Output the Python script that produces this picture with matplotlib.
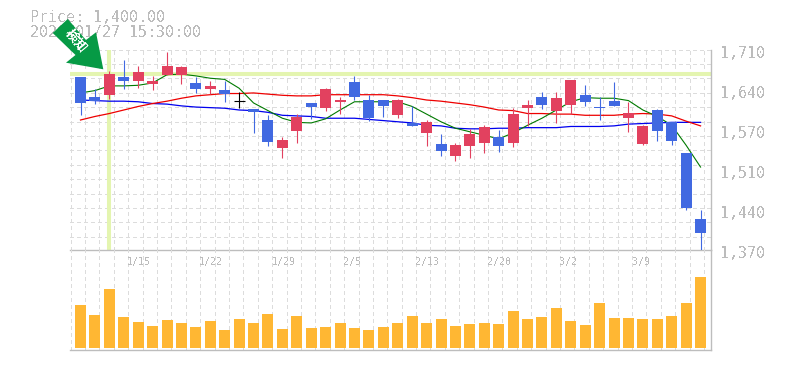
import matplotlib
matplotlib.use('Agg')
import matplotlib.pyplot as plt
from matplotlib.patches import Polygon

plt.rcParams['font.family'] = ['DejaVu Sans Mono']
plt.rcParams['text.antialiased'] = False

# price bars, oldest first
opens = [1664,1630,1633,1664,1657,1652,1667,1667,1654,1644,1642,1624,1609,1591,1543,1572,
         1620,1611,1622,1656,1625,1625,1600,1586,1569,1550,1530,1547,1552,1562,1552,1611,
         1630,1606,1616,1633,1613,1623,1594,1550,1608,1588,1535,1423]
highs = [1664,1643,1674,1693,1683,1666,1707,1683,1664,1657,1657,1639,1609,1600,1562,1601,
         1620,1645,1630,1666,1633,1625,1627,1615,1591,1567,1552,1576,1582,1574,1611,1625,
         1639,1639,1659,1650,1630,1656,1622,1582,1610,1588,1535,1438]
lows = [1600,1618,1627,1644,1645,1642,1667,1652,1637,1635,1622,1611,1569,1547,1526,1552,
        1593,1606,1601,1625,1589,1596,1594,1581,1547,1530,1521,1526,1535,1537,1545,1581,
        1610,1586,1601,1615,1591,1615,1571,1548,1555,1548,1438,1368]
closes = [1620,1624,1669,1657,1673,1657,1683,1681,1644,1649,1635,1624,1605,1554,1557,1596,
          1613,1644,1625,1630,1594,1615,1625,1581,1588,1538,1548,1567,1579,1547,1601,1616,
          1616,1628,1659,1622,1611,1615,1603,1581,1572,1555,1441,1399]

ma_short = [1637,1641,1649,1649,1650,1654,1668,1669,1666,1662,1660,1645,1620,1607,1594,1587,
            1586,1593,1608,1622,1622,1622,1622,1614,1601,1588,1577,1571,1565,1559,1569,1582,
            1594,1608,1622,1629,1628,1628,1624,1608,1597,1582,1548,1511]
ma_mid = [1591,1597,1602,1608,1614,1619,1623,1628,1632,1634,1636,1636,1637,1635,1633,1632,
          1632,1634,1634,1634,1634,1634,1632,1629,1625,1623,1620,1617,1613,1608,1607,1602,
          1602,1601,1601,1599,1599,1599,1601,1602,1601,1598,1589,1581]
ma_long = [1625,1624,1623,1623,1622,1619,1618,1615,1613,1612,1611,1608,1607,1604,1599,1598,
           1597,1594,1594,1594,1592,1590,1588,1586,1582,1581,1577,1576,1576,1577,1577,1578,
           1578,1578,1580,1580,1580,1581,1584,1585,1586,1587,1587,1587]

volume = [43,33,59,31,26,22,28,25,21,27,18,29,25,34,19,32,20,21,25,20,18,21,
          25,32,25,29,22,24,25,24,37,29,31,40,27,23,45,30,30,29,29,32,45,71]

date_idx = [4,9,14,19,24,29,34,39]
date_labels = ['1/15','1/22','1/29','2/5','2/13','2/20','3/2','3/9']
price_labels = ['1,710','1,640','1,570','1,510','1,440','1,370']
price_ticks = [1710,1642,1574,1506,1438,1370]
marker_idx = 2
marker_price = 1669

W, H = 785, 370
UP = '#e2415f'
DOWN = '#4169e1'
GRID = '#dcdcdc'
FRAME = '#bdbdbd'
TXT = '#bcbcbc'

fig = plt.figure(figsize=(W/100, H/100), dpi=100)
ax = fig.add_axes([70/W, 1-250/H, 640.5/W, 200/H])
ax2 = fig.add_axes([70/W, 1-350.3/H, 640.5/W, 100.3/H])

step = 14.42
xlim = (-10.5/step, (710.5-80.5)/step)
for a in (ax, ax2):
    a.set_xlim(xlim)
    a.set_xticks([])
    a.set_yticks([])
    for s in a.spines.values():
        s.set_visible(False)
    a.spines['right'].set_visible(True)
    a.spines['bottom'].set_visible(True)
    a.spines['right'].set_color(FRAME)
    a.spines['bottom'].set_color(FRAME)
    a.spines['right'].set_linewidth(1.0)
    a.spines['bottom'].set_linewidth(1.0)
    a.patch.set_alpha(0)

ax.set_ylim(1370, 1710)
ax2.set_ylim(-2.3, 98)

# square dashed grid, 14.4 px pitch
dash = (0, (3.2, 3.2))
gx = 0.5
while gx < 640:
    xv = xlim[0] + gx/step
    ax.axvline(xv, color=GRID, lw=0.72, ls=dash, zorder=1, antialiased=False)
    ax2.axvline(xv, color=GRID, lw=0.72, ls=dash, zorder=1, antialiased=False)
    gx += 14.4
gy = 49.5
while gy < 245:
    ax.axhline(1795-1.7*gy, color=GRID, lw=0.72, ls=dash, zorder=1, antialiased=False)
    gy += 14.4

# marker cross for the detected day
ax.axhline(marker_price, color='#e4f5b0', lw=2.9, zorder=1.5)
ax.axvline(marker_idx, color='#e4f5b0', lw=2.9, zorder=1.5)

xs = list(range(len(closes)))
ax.plot(xs, ma_long, color='#0000ee', lw=0.9, zorder=2)
ax.plot(xs, ma_mid, color='#ee0000', lw=0.9, zorder=2)
ax.plot(xs, ma_short, color='#007a00', lw=0.8, zorder=2)

# candles sit above the averages
for i in range(len(opens)):
    o, h, l, c = opens[i], highs[i], lows[i], closes[i]
    if c > o:
        col = UP
    elif c < o:
        col = DOWN
    else:
        col = 'black'
    ax.vlines(i, l, h, color=col, lw=0.8, zorder=3)
    if c == o:
        ax.hlines(c, i-0.38, i+0.38, color=col, lw=0.8, zorder=3)
    else:
        ax.bar(i, abs(c-o), bottom=min(o, c), width=11/step, color=col, lw=0, zorder=3)

ax2.bar(xs, volume, width=11/step, color='#ffb733', lw=0, zorder=3)

# text, offsets in px
for i, lab in zip(date_idx, date_labels):
    ax2.annotate(lab, (i, 1), xycoords=('data', 'axes fraction'), xytext=(-11*0.72, -12*0.72),
                 textcoords='offset points', ha='left', va='center', fontsize=7.2, color=TXT)
for v, lab in zip(price_ticks, price_labels):
    ax.annotate(lab, (1, v), xycoords=('axes fraction', 'data'), xytext=(10*0.72, -3*0.72),
                textcoords='offset points', ha='left', va='center', fontsize=10.8, color=TXT,
                annotation_clip=False)

fig.text(30/W, 1-17/H, 'Price: 1,400.00', fontsize=10.8, color=TXT, va='center', ha='left')
fig.text(30/W, 1-32.5/H, '2020/01/27 15:30:00', fontsize=10.8, color=TXT, va='center', ha='left')

# green arrow with label, in figure pixels
arrow_px = [(52.7,33),(67.7,19),(86,40),(96,32.3),(103.3,69.3),(66,62.7),(75.5,55)]
fig.add_artist(Polygon([(x/W, 1-y/H) for x, y in arrow_px], closed=True, transform=fig.transFigure,
                       facecolor='#069a45', edgecolor='none', zorder=6))
fig.text(76/W, 1-41/H, '検知', fontsize=9.5, color='white', rotation=-50, ha='center', va='center',
         family=['Noto Sans CJK JP', 'DejaVu Sans'], fontweight='bold', zorder=7)

fig.savefig('out.png', dpi=100)
